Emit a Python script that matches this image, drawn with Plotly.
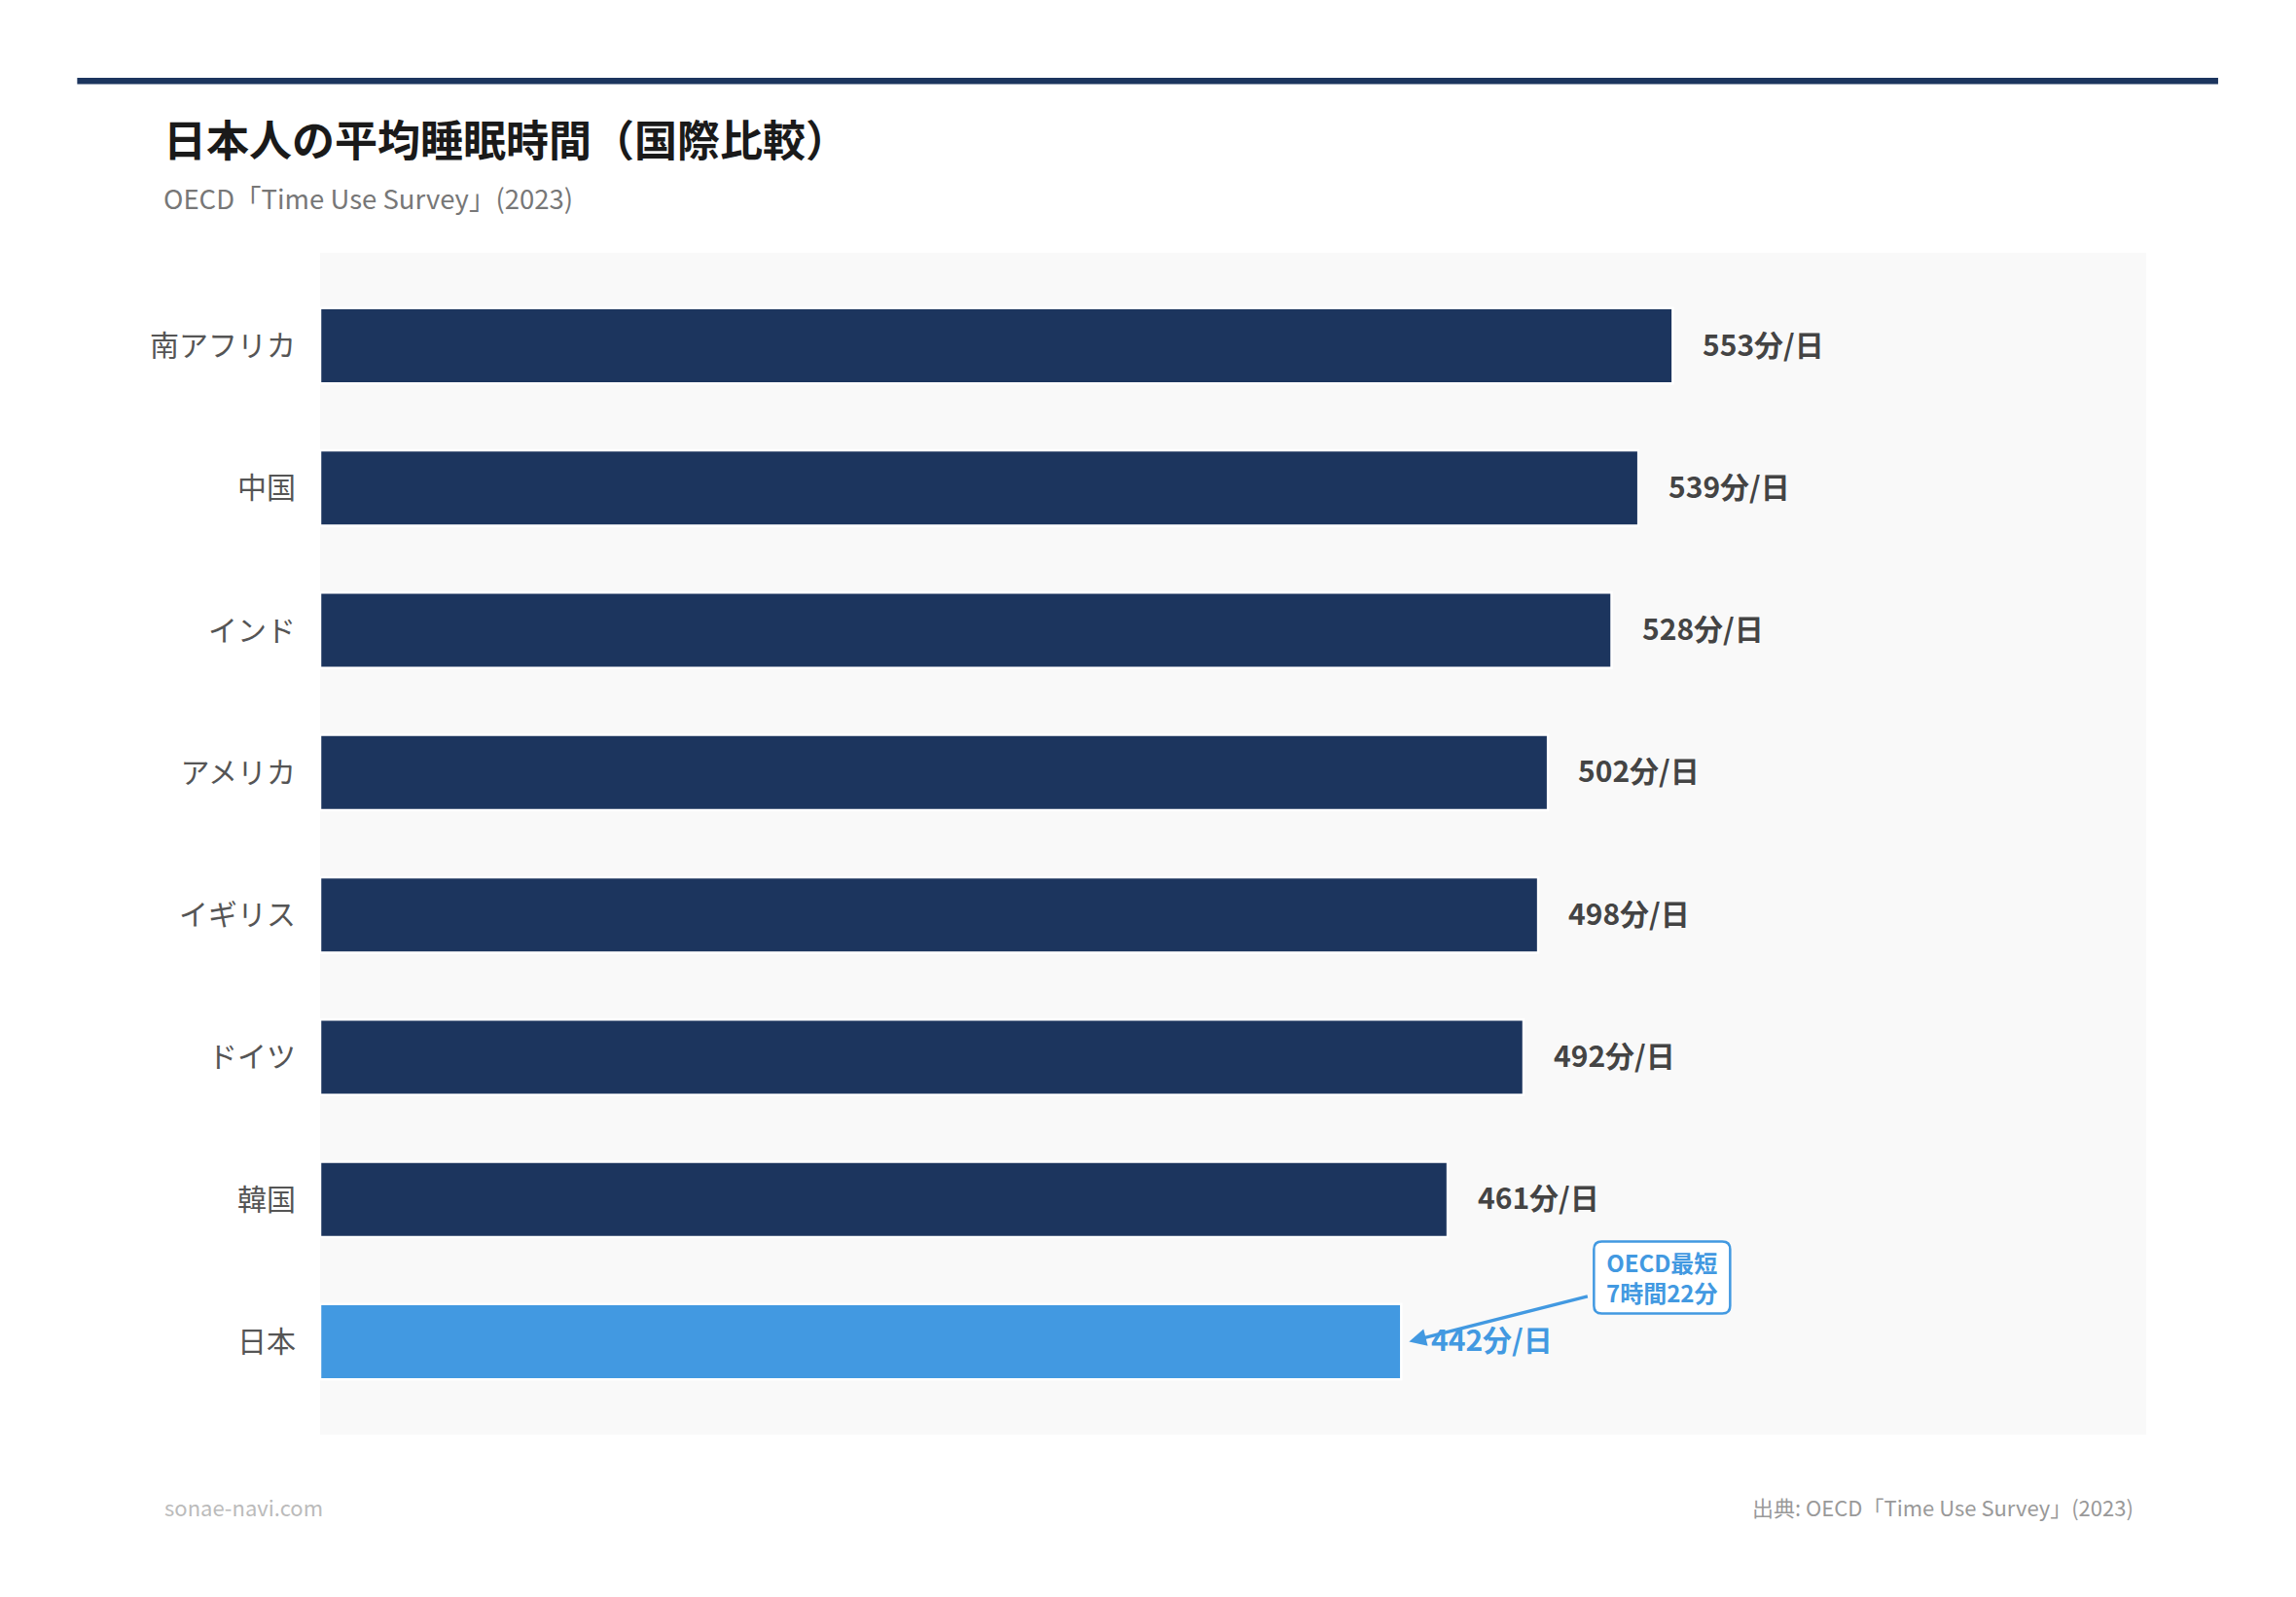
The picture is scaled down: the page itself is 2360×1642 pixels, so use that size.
import plotly.graph_objects as go

categories = ["南アフリカ", "中国", "インド", "アメリカ", "イギリス", "ドイツ", "韓国", "日本"]
minutes = [553, 539, 528, 502, 498, 492, 461, 442]
value_labels = ["553分/日", "539分/日", "528分/日", "502分/日", "498分/日", "492分/日", "461分/日", "442分/日"]
highlight = "日本"

title_text = "日本人の平均睡眠時間（国際比較）"
subtitle_text = "OECD「Time Use Survey」(2023)"
source_text = "出典: OECD「Time Use Survey」(2023)"
site_text = "sonae-navi.com"
callout_text = "OECD最短<br>7時間22分"

NAVY = "#1c355e"
BLUE = "#4299e1"
FONT = "Noto Sans CJK JP"

bar_colors = [BLUE if c == highlight else NAVY for c in categories]
label_colors = [BLUE if c == highlight else "#444444" for c in categories]

fig = go.Figure()
fig.add_trace(go.Bar(
    x=minutes, y=categories, orientation="h",
    width=0.53,
    marker=dict(color=bar_colors, line=dict(color="white", width=2.5)),
    hoverinfo="skip",
))

xmax = max(minutes) * 1.35

annotations = []
for c, v, t, col in zip(categories, minutes, value_labels, label_colors):
    annotations.append(dict(
        x=v, y=c, xref="x", yref="y", text=t, showarrow=False,
        xanchor="left", yanchor="middle", xshift=29, yshift=3,
        font=dict(family=FONT, size=30, color=col, weight="bold"),
    ))

# callout arrow + text anchored at the highlighted bar's end
jp_val = minutes[categories.index(highlight)]
head_x = jp_val + 3.2
annotations.append(dict(
    x=head_x, y=highlight, xref="x", yref="y", text="",
    showarrow=True, ax=185, ay=-47, axref="pixel", ayref="pixel",
    arrowhead=2, arrowsize=1.1, arrowwidth=3.2, arrowcolor=BLUE, standoff=0,
))
annotations.append(dict(
    x=head_x, y=highlight, xref="x", yref="y", text=callout_text,
    showarrow=False, xshift=260, yshift=66, xanchor="center", yanchor="middle",
    font=dict(family=FONT, size=24, color=BLUE, weight="bold"),
))

# header / footer texts
annotations += [
    dict(x=-0.087, y=1.097, xref="paper", yref="paper", text=title_text, showarrow=False,
         xanchor="left", yanchor="middle",
         font=dict(family=FONT, size=44, color="#1a1a1a", weight="bold")),
    dict(x=-0.0866, y=1.0473, xref="paper", yref="paper", text=subtitle_text, showarrow=False,
         xanchor="left", yanchor="middle",
         font=dict(family=FONT, size=27.5, color="#777777")),
    dict(x=-0.0862, y=-0.0609, xref="paper", yref="paper", text=site_text, showarrow=False,
         xanchor="left", yanchor="middle",
         font=dict(family=FONT, size=22, color="#bbbbbb")),
    dict(x=0.9939, y=-0.0609, xref="paper", yref="paper", text=source_text, showarrow=False,
         xanchor="right", yanchor="middle",
         font=dict(family=FONT, size=22, color="#999999")),
]

shapes = [
    # top rule
    dict(type="line", xref="paper", yref="paper", x0=-0.133, x1=1.0394, y0=1.1454, y1=1.1454,
         line=dict(color=NAVY, width=6.5)),
    # rounded callout box (pixel-sized, anchored at arrow head)
    dict(type="path", xref="x", yref="y", xsizemode="pixel", ysizemode="pixel",
         xanchor=head_x, yanchor=highlight,
         path=("M 198,29 L 322,29 Q 330,29 330,37 L 330,95 Q 330,103 322,103 "
               "L 198,103 Q 190,103 190,95 L 190,37 Q 190,29 198,29 Z"),
         fillcolor="white", line=dict(color=BLUE, width=2.5), layer="above"),
]

fig.update_layout(
    width=2360, height=1642,
    margin=dict(l=321, r=162, t=252, b=175),
    paper_bgcolor="white", plot_bgcolor="#f9f9f9",
    showlegend=False,
    font=dict(family=FONT),
    xaxis=dict(range=[0, xmax], showgrid=False, zeroline=False, showticklabels=False,
               showline=False, ticks="", fixedrange=True),
    yaxis=dict(type="category", categoryorder="array", categoryarray=categories,
               range=[len(categories) - 1 + 0.653, -0.653],
               showgrid=False, zeroline=False, showline=False, ticks="",
               ticklabelstandoff=24,
               tickfont=dict(family=FONT, size=30, color="#555555")),
    annotations=annotations,
    shapes=shapes,
)

fig.write_html("out.html")
